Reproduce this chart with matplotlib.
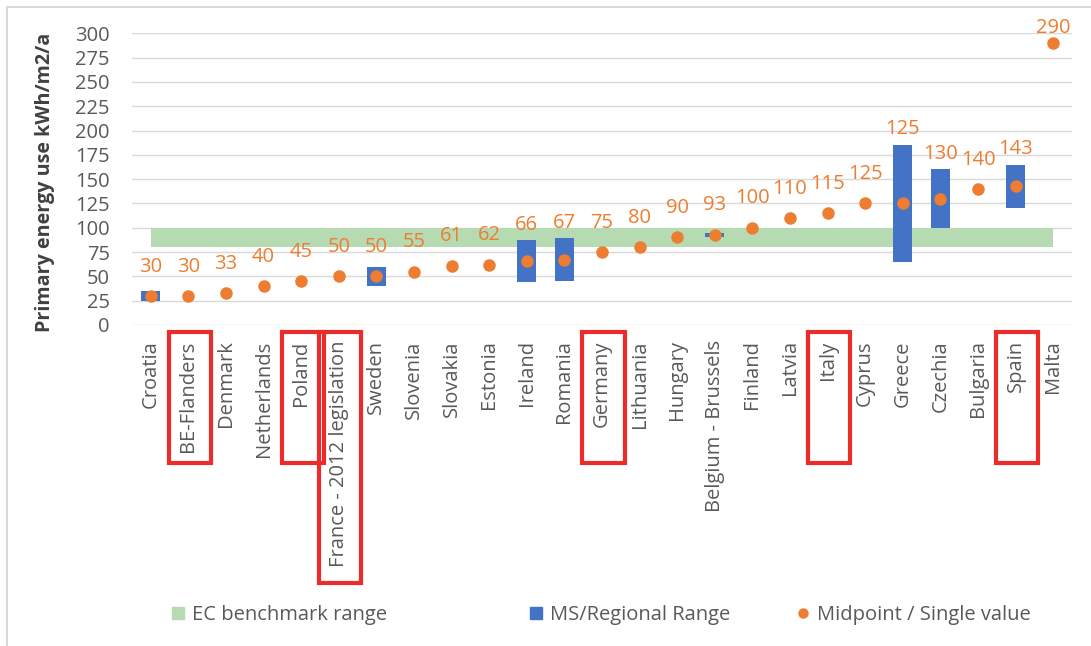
import numpy as np
import matplotlib
matplotlib.use('Agg')
import matplotlib.pyplot as plt
import matplotlib.transforms as mtransforms
from matplotlib.lines import Line2D
from matplotlib.patches import Rectangle

plt.rcParams['font.family'] = ['Open Sans', 'DejaVu Sans']

countries = ['Croatia', 'BE-Flanders', 'Denmark', 'Netherlands', 'Poland',
             'France - 2012 legislation', 'Sweden', 'Slovenia', 'Slovakia', 'Estonia',
             'Ireland', 'Romania', 'Germany', 'Lithuania', 'Hungary',
             'Belgium - Brussels', 'Finland', 'Latvia', 'Italy', 'Cyprus',
             'Greece', 'Czechia', 'Bulgaria', 'Spain', 'Malta']
midpoints = [30, 30, 33, 40, 45, 50, 50, 55, 61, 62, 66, 67, 75, 80, 90,
             93, 100, 110, 115, 125, 125, 130, 140, 143, 290]
range_low = [25, None, None, None, None, None, 40, None, None, None, 44, 45, None,
             None, None, 90, None, None, None, None, 65, 100, None, 120, None]
range_high = [35, None, None, None, None, None, 60, None, None, None, 87, 89, None,
              None, None, 95, None, None, None, None, 185, 160, None, 165, None]
benchmark = (80, 100)
highlighted = ['BE-Flanders', 'Poland', 'France - 2012 legislation', 'Germany', 'Italy', 'Spain']

green = '#b6dbb2'
blue = '#4472c4'
orange = '#ed7d31'
grey = '#595959'
fs = 14.5

W, H = 1091, 646
fig = plt.figure(figsize=(W / 100, H / 100), dpi=100)
ax = fig.add_axes([132 / W, 1 - 325 / H, 940 / W, (325 - 33.3) / H])

x = np.arange(len(countries))
lo = np.array([np.nan if v is None else v for v in range_low], dtype=float)
hi = np.array([np.nan if v is None else v for v in range_high], dtype=float)
has_range = ~np.isnan(lo)

# benchmark band, ranges, midpoints
ax.fill_between(x, benchmark[0], benchmark[1], color=green, lw=0, zorder=1)
ax.bar(x[has_range], hi[has_range] - lo[has_range], bottom=lo[has_range],
       width=0.5, color=blue, zorder=2)
ax.plot(x, midpoints, 'o', color=orange, ms=8, zorder=4)

for i, v in enumerate(midpoints):
    y = v + 25
    if has_range[i]:
        y = max(y, hi[i] + 11)
    y = min(y, 300)
    ax.text(i, y, str(v), ha='center', va='baseline', color=orange, fontsize=fs, zorder=5)

ax.set_xlim(-0.5, len(countries) - 0.5)
ax.set_ylim(0, 300)
ax.set_yticks(range(0, 301, 25))
ax.set_xticks(x)
ax.set_xticklabels(countries, rotation=90, va='top', ha='center')
ax.grid(axis='y', color='#d9d9d9', lw=1.0)
ax.set_axisbelow(True)
for s in ax.spines.values():
    s.set_visible(False)
ax.tick_params(axis='both', length=0, colors=grey, labelsize=fs)
ax.tick_params(axis='x', pad=11)
ax.tick_params(axis='y', pad=16)

fig.text(45 / W, 1 - 182 / H, 'Primary energy use kWh/m2/a', rotation=90,
         ha='center', va='center', fontsize=14.2, fontweight='bold', color='#404040')

# red highlight boxes around some labels
trans = mtransforms.blended_transform_factory(ax.transData, fig.transFigure)
top = 1 - 331.7 / H
for name in highlighted:
    i = countries.index(name)
    bottom = 1 - (583 if name.startswith('France') else 462.7) / H
    ax.add_patch(Rectangle((i - 0.52, bottom), 1.12, top - bottom, transform=trans,
                           fill=False, ec='#ec2b2b', lw=3, clip_on=False, zorder=6))

# legend, three entries spread like the original
entries = [
    (Line2D([], [], marker='s', ls='none', color=green, ms=8.6), 'EC benchmark range', 171),
    (Line2D([], [], marker='s', ls='none', color=blue, ms=8.6), 'MS/Regional Range', 529),
    (Line2D([], [], marker='o', ls='none', color=orange, ms=6.5), 'Midpoint / Single value', 796),
]
for handle, label, px in entries:
    fig.legend(handles=[handle], labels=[label], loc='center left',
               bbox_to_anchor=(px / W, 1 - 615 / H), frameon=False, borderpad=0,
               borderaxespad=0, handlelength=0.65, handletextpad=0.4,
               fontsize=fs, labelcolor=grey)

# chart area border (left and top only visible)
fig.add_artist(Line2D([7 / W, 7 / W], [0, 1 - 7 / H], transform=fig.transFigure,
                      color='#d9d9d9', lw=1.5))
fig.add_artist(Line2D([7 / W, 1], [1 - 7 / H, 1 - 7 / H], transform=fig.transFigure,
                      color='#d9d9d9', lw=1.5))

fig.savefig('out.png', dpi=100)
